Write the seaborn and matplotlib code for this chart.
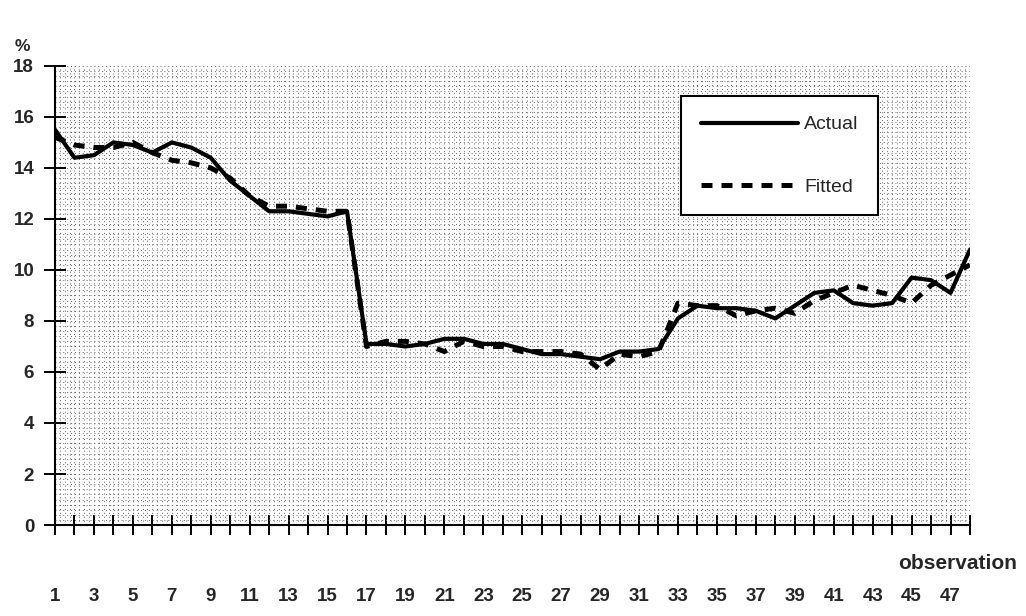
import numpy as np
import pandas as pd
import seaborn as sns
import matplotlib as mpl
from matplotlib import pyplot as plt
import matplotlib.ticker as ticker

mpl.use("Agg")

# observations 1..48
observation = list(range(1, 49))

actual = [15.5, 14.4, 14.5, 15.0, 14.9, 14.6, 15.0, 14.8, 14.4, 13.5,
          12.9, 12.3, 12.3, 12.2, 12.1, 12.3, 7.1, 7.1, 7.0, 7.1,
          7.3, 7.3, 7.1, 7.1, 6.9, 6.7, 6.7, 6.6, 6.5, 6.8,
          6.8, 6.9, 8.1, 8.6, 8.5, 8.5, 8.4, 8.1, 8.6, 9.1,
          9.2, 8.7, 8.6, 8.7, 9.7, 9.6, 9.1, 10.8]

fitted = [15.2, 14.9, 14.8, 14.8, 15.0, 14.6, 14.3, 14.2, 14.0, 13.6,
          12.9, 12.5, 12.5, 12.4, 12.3, 12.3, 7.0, 7.2, 7.2, 7.1,
          6.8, 7.2, 7.0, 7.0, 6.8, 6.8, 6.8, 6.7, 6.1, 6.7,
          6.6, 6.8, 8.7, 8.6, 8.6, 8.2, 8.4, 8.5, 8.3, 8.8,
          9.1, 9.4, 9.2, 9.0, 8.7, 9.4, 9.8, 10.2]

y_ticks = list(range(0, 19, 2))
x_labels = [str(i) if i % 2 == 1 else "" for i in observation]

sns.set_style("white")
plt.rcParams["font.family"] = ["Liberation Sans", "DejaVu Sans"]

df = pd.DataFrame({"observation": observation, "Actual": actual, "Fitted": fitted})

fig = plt.figure(figsize=(10.26, 6.16), dpi=100)
ax = fig.add_axes([0.0536, 0.1477, 0.8918, 0.7453])

sns.lineplot(data=df, x="observation", y="Actual", ax=ax, color="black",
             linewidth=3.0, label="Actual")
sns.lineplot(data=df, x="observation", y="Fitted", ax=ax, color="black",
             linewidth=3.6, linestyle=(0, (2.2, 1.8)), label="Fitted")

ax.set_xlim(1, 48)
ax.set_ylim(0, 18)

# dense dotted grid
ax.xaxis.set_minor_locator(ticker.MultipleLocator(0.25))
ax.yaxis.set_minor_locator(ticker.MultipleLocator(0.2))
ax.grid(which="both", color="0.4", linestyle=(0, (1, 3)), linewidth=0.7)
ax.set_axisbelow(True)

ax.set_xticks(observation)
ax.set_xticklabels(x_labels)
ax.set_yticks(y_ticks)
ax.tick_params(axis="x", which="major", bottom=True, direction="inout", length=14,
               width=1.4, color="black", pad=38, labelsize=13.5)
ax.tick_params(axis="y", which="major", left=True, direction="inout", length=16,
               width=1.4, color="black", pad=7, labelsize=13.5)
ax.tick_params(which="minor", length=0)
for lab in ax.get_xticklabels() + ax.get_yticklabels():
    lab.set_fontweight("bold")

for s in ["top", "right"]:
    ax.spines[s].set_visible(False)
for s in ["left", "bottom"]:
    ax.spines[s].set_color("black")
    ax.spines[s].set_linewidth(1.5)

ax.set_xlabel("")
ax.set_ylabel("")
ax.text(0.922, -0.083, "observation", transform=ax.transAxes, ha="left", va="center",
        fontsize=15, fontweight="bold")
fig.text(0.014, 0.925, "%", fontsize=12.5, fontweight="bold", ha="left", va="center")

leg = ax.legend(loc="upper left", bbox_to_anchor=(0.674, 0.955), fontsize=14,
                handlelength=5.0, labelspacing=2.3, borderpad=1.0,
                handletextpad=0.3, fancybox=False, framealpha=1, edgecolor="black")
leg.get_frame().set_linewidth(1.5)

plt.savefig("out.png", dpi=100)
